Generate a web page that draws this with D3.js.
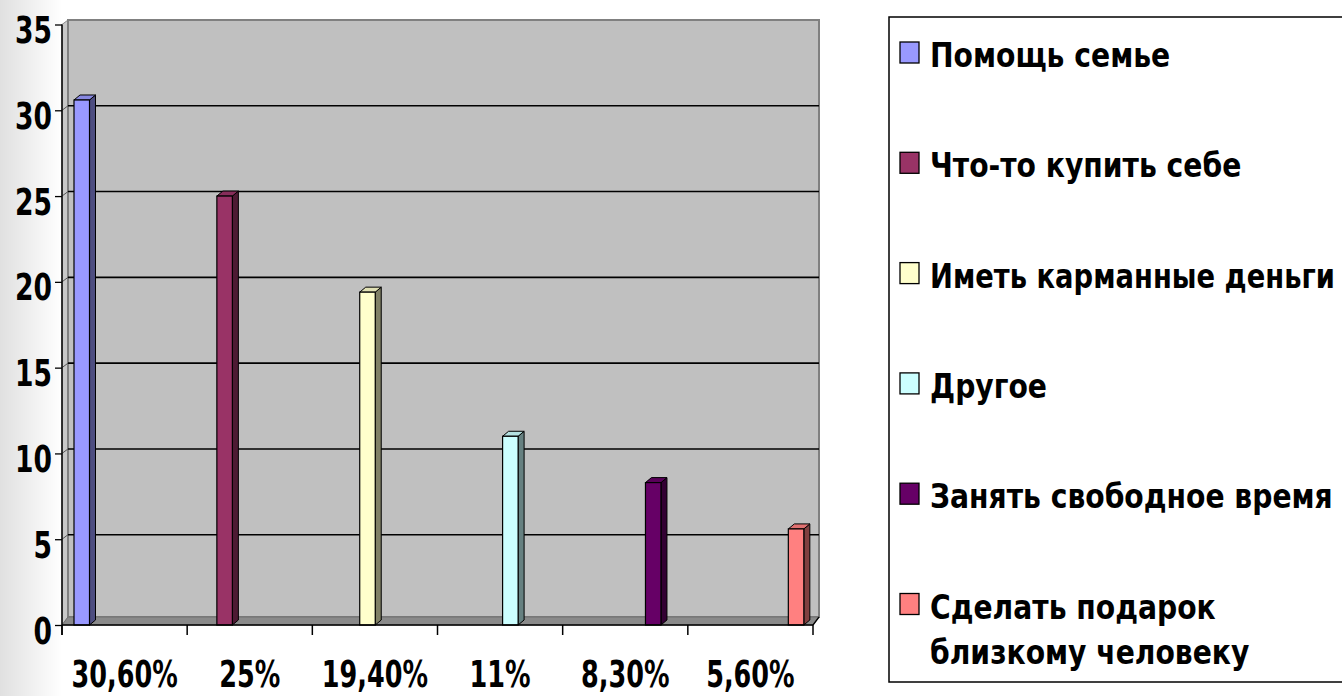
<!DOCTYPE html>
<html><head><meta charset="utf-8">
<script src="https://cdn.jsdelivr.net/npm/d3@7"></script>
<style>html,body{margin:0;padding:0;background:#fff;overflow:hidden}</style>
</head><body>
<svg id="c" width="1342" height="696"></svg>
<script>
// ---- data ----
const categories = ["30,60%", "25%", "19,40%", "11%", "8,30%", "5,60%"];
const seriesNames = ["Помощь семье", "Что-то купить себе", "Иметь карманные деньги", "Другое", "Занять свободное время", "Сделать подарок близкому человеку"];
const legendLines = [["Помощь семье"], ["Что-то купить себе"], ["Иметь карманные деньги"], ["Другое"], ["Занять свободное время"], ["Сделать подарок", "близкому человеку"]];
const values = [30.6, 25, 19.4, 11, 8.3, 5.6];
const colors = ["#9999ff", "#993366", "#ffffcc", "#ccffff", "#660066", "#ff8080"];
const yTicks = [0, 5, 10, 15, 20, 25, 30, 35];

// ---- layout ----
const W = 1342, H = 696;
const FONT = "'DejaVu Sans', Verdana, sans-serif";
const svg = d3.select("#c");
const defs = svg.append("defs");
const grad = defs.append("linearGradient").attr("id", "bg").attr("x1", 0).attr("x2", 1).attr("y1", 0).attr("y2", 0);
grad.append("stop").attr("offset", 0).attr("stop-color", "#e0e0e0");
grad.append("stop").attr("offset", 1).attr("stop-color", "#ffffff");
svg.append("rect").attr("x", 0).attr("y", 0).attr("width", 62).attr("height", H).attr("fill", "url(#bg)");

const plot = {left: 62, right: 813, top: 24.5, bottom: 625};
const wallOff = {dx: 6, dy: -4.5};
const barOff = {dx: 6, dy: -5};
const floorBack = plot.bottom - 8;

const x = d3.scaleBand().domain(categories).range([plot.left, plot.right]);
const xs = d3.scaleBand().domain(seriesNames).range([12, 116]).paddingInner(0.124);
const y = d3.scaleLinear().domain([0, 35]).range([plot.bottom, plot.top]);

// side wall
const wallTop = y(35) + wallOff.dy;
svg.append("polygon")
  .attr("points", [[plot.left, y(35)], [plot.left + wallOff.dx, wallTop], [plot.left + wallOff.dx, floorBack], [plot.left, plot.bottom]].join(" "))
  .attr("fill", "#c8c8c8").attr("stroke", "#8a8a8a").attr("stroke-width", 1);
// back wall
svg.append("rect")
  .attr("x", plot.left + wallOff.dx).attr("y", wallTop)
  .attr("width", plot.right - plot.left).attr("height", floorBack - wallTop)
  .attr("fill", "#c0c0c0").attr("stroke", "#808080").attr("stroke-width", 2);
// floor
svg.append("polygon")
  .attr("points", [[plot.left, plot.bottom], [plot.left + wallOff.dx, floorBack], [plot.right + wallOff.dx, floorBack], [plot.right, plot.bottom]].join(" "))
  .attr("fill", "#8a8a8a").attr("stroke", "#707070").attr("stroke-width", 1);

// gridlines
const grid = yTicks.filter(v => v > 0 && v < 35);
svg.append("g").selectAll("line").data(grid).join("line")
  .attr("x1", plot.left + wallOff.dx).attr("x2", plot.right + wallOff.dx)
  .attr("y1", d => y(d) + wallOff.dy).attr("y2", d => y(d) + wallOff.dy)
  .attr("stroke", "#000").attr("stroke-width", 1.6);
svg.append("g").selectAll("line").data(grid).join("line")
  .attr("x1", plot.left).attr("x2", plot.left + wallOff.dx)
  .attr("y1", d => y(d)).attr("y2", d => y(d) + wallOff.dy)
  .attr("stroke", "#555").attr("stroke-width", 1);

// bars
const bw = xs.bandwidth();
const shade = (c, k) => { const r = d3.rgb(c); return d3.rgb(r.r * k, r.g * k, r.b * k).formatHex(); };
const bars = svg.append("g").selectAll("g").data(values).join("g");
bars.each(function (v, i) {
  const g = d3.select(this);
  const bx = x(categories[i]) + xs(seriesNames[i]);
  const by = y(v), b0 = y(0);
  const dx = barOff.dx, dy = barOff.dy;
  g.append("polygon")
    .attr("points", [[bx + bw, by], [bx + bw + dx, by + dy], [bx + bw + dx, b0 + dy], [bx + bw, b0]].join(" "))
    .attr("fill", shade(colors[i], 0.5)).attr("stroke", "#000").attr("stroke-width", 1).attr("stroke-linejoin", "round");
  g.append("polygon")
    .attr("points", [[bx, by], [bx + dx, by + dy], [bx + bw + dx, by + dy], [bx + bw, by]].join(" "))
    .attr("fill", shade(colors[i], 0.88)).attr("stroke", "#000").attr("stroke-width", 1).attr("stroke-linejoin", "round");
  g.append("rect")
    .attr("x", bx).attr("y", by).attr("width", bw).attr("height", b0 - by)
    .attr("fill", colors[i]).attr("stroke", "#000").attr("stroke-width", 1.2);
});

// axes
const yAxis = d3.axisLeft(y).tickValues(yTicks).tickSize(7).tickFormat(d3.format("d"));
const gy = svg.append("g").attr("transform", `translate(${plot.left},0)`).call(yAxis);
gy.select(".domain").attr("stroke", "#000").attr("stroke-width", 1.5).attr("d", `M0,${y(35)}V${plot.bottom + 10}`);
gy.selectAll(".tick line").attr("stroke", "#000").attr("stroke-width", 1.3);
gy.selectAll(".tick text")
  .attr("x", 0).attr("y", 0).attr("dy", null)
  .attr("transform", "translate(-10,18) scale(0.7,1)")
  .attr("font-family", FONT).attr("font-weight", "bold").attr("font-size", 38).attr("fill", "#000");

const xEdges = d3.range(categories.length + 1).map(k => plot.left + k * x.step());
const gx = svg.append("g");
gx.append("line").attr("x1", plot.left).attr("x2", plot.right).attr("y1", plot.bottom).attr("y2", plot.bottom)
  .attr("stroke", "#000").attr("stroke-width", 1.5);
gx.append("line").attr("x1", plot.right).attr("x2", plot.right + wallOff.dx).attr("y1", plot.bottom).attr("y2", floorBack)
  .attr("stroke", "#000").attr("stroke-width", 1.3);
gx.selectAll("line.t").data(xEdges).join("line").attr("class", "t")
  .attr("x1", d => d).attr("x2", d => d).attr("y1", plot.bottom).attr("y2", plot.bottom + 10)
  .attr("stroke", "#000").attr("stroke-width", 1.5);
gx.selectAll("text").data(categories).join("text")
  .attr("transform", d => `translate(${x(d) + x.bandwidth() / 2},687) scale(0.69,1)`)
  .attr("text-anchor", "middle")
  .attr("font-family", FONT).attr("font-weight", "bold").attr("font-size", 37).attr("fill", "#000")
  .text(d => d);

// legend
const LF = 0.83;
const legendTextX = 930, legendMaxRight = 1335;
svg.append("rect").attr("x", 889).attr("y", 17).attr("width", 520).attr("height", 665)
  .attr("fill", "#fff").attr("stroke", "#000").attr("stroke-width", 1.5);
const rowY = d3.scaleLinear().domain([0, 1]).range([67, 177.3]);
const lg = svg.append("g");
legendLines.forEach((lines, i) => {
  const base = rowY(i);
  lg.append("rect").attr("x", 900).attr("y", base - 25).attr("width", 19).attr("height", 21)
    .attr("fill", colors[i]).attr("stroke", "#000").attr("stroke-width", 1.3);
  lines.forEach((ln, j) => {
    const t = lg.append("text")
      .attr("font-family", FONT).attr("font-weight", "bold").attr("font-size", 34).attr("fill", "#000")
      .text(ln);
    const natural = t.node().getComputedTextLength();
    const k = Math.min(LF, (legendMaxRight - legendTextX) / natural);
    t.attr("transform", `translate(${legendTextX},${base + j * 45}) scale(${k},1)`);
  });
});
</script>
</body></html>
